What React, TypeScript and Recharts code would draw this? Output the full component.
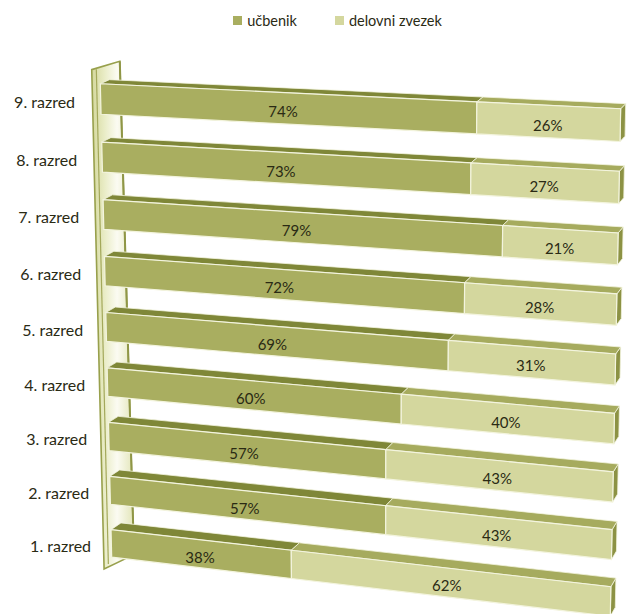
import React from 'react';
import { BarChart, Bar, XAxis, YAxis, Legend, Customized } from 'recharts';

const categories = ['9. razred', '8. razred', '7. razred', '6. razred', '5. razred', '4. razred', '3. razred', '2. razred', '1. razred'];
const ucbenik = [74, 73, 79, 72, 69, 60, 57, 57, 38];
const delovniZvezek = [26, 27, 21, 28, 31, 40, 43, 43, 62];
const seriesNames = ['učbenik', 'delovni zvezek'];

const data = categories.map((c, i) => ({ razred: c, ucbenik: ucbenik[i], delovni: delovniZvezek[i] }));

const W = 627;
const H = 614;
const FONT = 'Lato, "Open Sans", sans-serif';
const PLOT = { left: 100, top: 70, width: 521, height: 500 };
// screen quad of the flat plot area (front plane) and depth offsets (3D look)
const Q: Record<string, number[]> = { tl: [100, 70], tr: [621, 94], bl: [112, 570], br: [610, 630] };
const D: Record<string, number[]> = { tl: [9, -4], tr: [5, -5], bl: [10, -7], br: [5, -9] };

const COLORS = {
  ucbenik: { front: '#a9ae60', top: '#7f8738', side: '#858c3c' },
  delovni: { front: '#d4d79e', top: '#a6ab5e', side: '#8c9244' },
};
const EDGE = '#f3f4de';
const TEXT = '#2a2a14';

function persp(t: number, c: number) {
  return (t * (1 + c)) / (1 + c * t);
}

function proj(fx: number, fy: number, depth = 0): number[] {
  const u = persp((fx - PLOT.left) / PLOT.width, -0.08);
  const v = persp((fy - PLOT.top) / PLOT.height, 0.06);
  const k = (n: string) => [Q[n][0] + depth * D[n][0], Q[n][1] + depth * D[n][1]];
  const a = k('tl'), b = k('tr'), c = k('bl'), d = k('br');
  const x = (1 - u) * (1 - v) * a[0] + u * (1 - v) * b[0] + (1 - u) * v * c[0] + u * v * d[0];
  const y = (1 - u) * (1 - v) * a[1] + u * (1 - v) * b[1] + (1 - u) * v * c[1] + u * v * d[1];
  return [x, y];
}

const pts = (arr: number[][]) => arr.map((q) => `${q[0].toFixed(2)},${q[1].toFixed(2)}`).join(' ');

const makeShape = (key: 'ucbenik' | 'delovni') => (props: any) => {
  const { x, y, width, height, payload } = props;
  if (width == null || height == null) return <g />;
  const col = COLORS[key];
  const f1 = proj(x, y), f2 = proj(x + width, y), f3 = proj(x + width, y + height), f4 = proj(x, y + height);
  const b1 = proj(x, y, 1), b2 = proj(x + width, y, 1), b3 = proj(x + width, y + height, 1);
  const c = proj(x + width / 2, y + height / 2);
  return (
    <g>
      <polygon points={pts([f2, b2, b3, f3])} fill={col.side} stroke={EDGE} strokeWidth={0.8} />
      <polygon points={pts([f1, f2, b2, b1])} fill={col.top} stroke={EDGE} strokeWidth={0.8} />
      <polygon points={pts([f1, f2, f3, f4])} fill={col.front} stroke={EDGE} strokeWidth={1.2} />
      <text x={c[0]} y={c[1] + 3} textAnchor="middle" dominantBaseline="central" fontFamily={FONT} fontSize={15} fill={TEXT}>
        {payload[key]}%
      </text>
    </g>
  );
};

const Wall = () => {
  const L = PLOT.left, T = PLOT.top, B = PLOT.top + PLOT.height;
  const A = proj(L - 9, T), Bk = proj(L, T, 2.2), C = proj(L, B, 2.2), Dd = proj(L - 9, B);
  const i1 = proj(L - 4, T - 0.5), i2 = proj(L - 4, B - 6);
  return (
    <g>
      <defs>
        <linearGradient id="wallGrad" x1="0" y1="0" x2="1" y2="0">
          <stop offset="0" stopColor="#d4d89c" />
          <stop offset="0.3" stopColor="#e9ecc6" />
          <stop offset="0.6" stopColor="#fbfbf2" />
          <stop offset="1" stopColor="#e2e5b8" />
        </linearGradient>
      </defs>
      <polygon points={pts([A, Bk, C, Dd])} fill="url(#wallGrad)" stroke="#98a04c" strokeWidth={1.6} />
      <line x1={i1[0]} y1={i1[1]} x2={i2[0]} y2={i2[1]} stroke="#a3a85a" strokeWidth={1.2} />
      <line x1={Bk[0]} y1={Bk[1]} x2={C[0]} y2={C[1]} stroke="#8f9646" strokeWidth={2} />
    </g>
  );
};

const YTick = (props: any) => {
  const { y, payload } = props;
  const s = proj(PLOT.left, y);
  return (
    <text x={74 + 1.5 * (s[0] - PLOT.left)} y={s[1] + 2} textAnchor="end" dominantBaseline="central" fontFamily={FONT} fontSize={16} fill={TEXT}>
      {payload.value}
    </text>
  );
};

const LegendContent = (props: any) => {
  const payload = [...(props.payload || [])].sort((a: any, b: any) => seriesNames.indexOf(a.value) - seriesNames.indexOf(b.value));
  return (
    <div style={{ display: 'flex', justifyContent: 'center', gap: 38, paddingLeft: 48, fontFamily: FONT, fontSize: 14.5, color: TEXT }}>
      {payload.map((p: any) => (
        <div key={p.value} style={{ display: 'flex', alignItems: 'center', gap: 5 }}>
          <span style={{ display: 'inline-block', width: 9, height: 9, background: p.color }} />
          <span>{p.value}</span>
        </div>
      ))}
    </div>
  );
};

export default function App() {
  return (
    <div style={{ position: 'absolute', left: 0, top: 0, width: W, height: H, background: '#ffffff' }}>
      <BarChart width={W} height={H} data={data} layout="vertical" margin={{ top: PLOT.top, right: W - PLOT.left - PLOT.width, bottom: H - PLOT.top - PLOT.height, left: 0 }}>
        <XAxis type="number" domain={[0, 100]} hide />
        <YAxis type="category" dataKey="razred" width={PLOT.left} axisLine={false} tickLine={false} tick={<YTick />} interval={0} />
        <Customized component={<Wall />} />
        <Legend layout="vertical" align="center" verticalAlign="middle" wrapperStyle={{ position: 'absolute', top: 12, left: 0, width: W }} content={<LegendContent />} />
        <Bar dataKey="ucbenik" name={seriesNames[0]} stackId="a" barSize={29} fill={COLORS.ucbenik.front} shape={makeShape('ucbenik')} isAnimationActive={false} />
        <Bar dataKey="delovni" name={seriesNames[1]} stackId="a" barSize={29} fill={COLORS.delovni.front} shape={makeShape('delovni')} isAnimationActive={false} />
      </BarChart>
    </div>
  );
}
